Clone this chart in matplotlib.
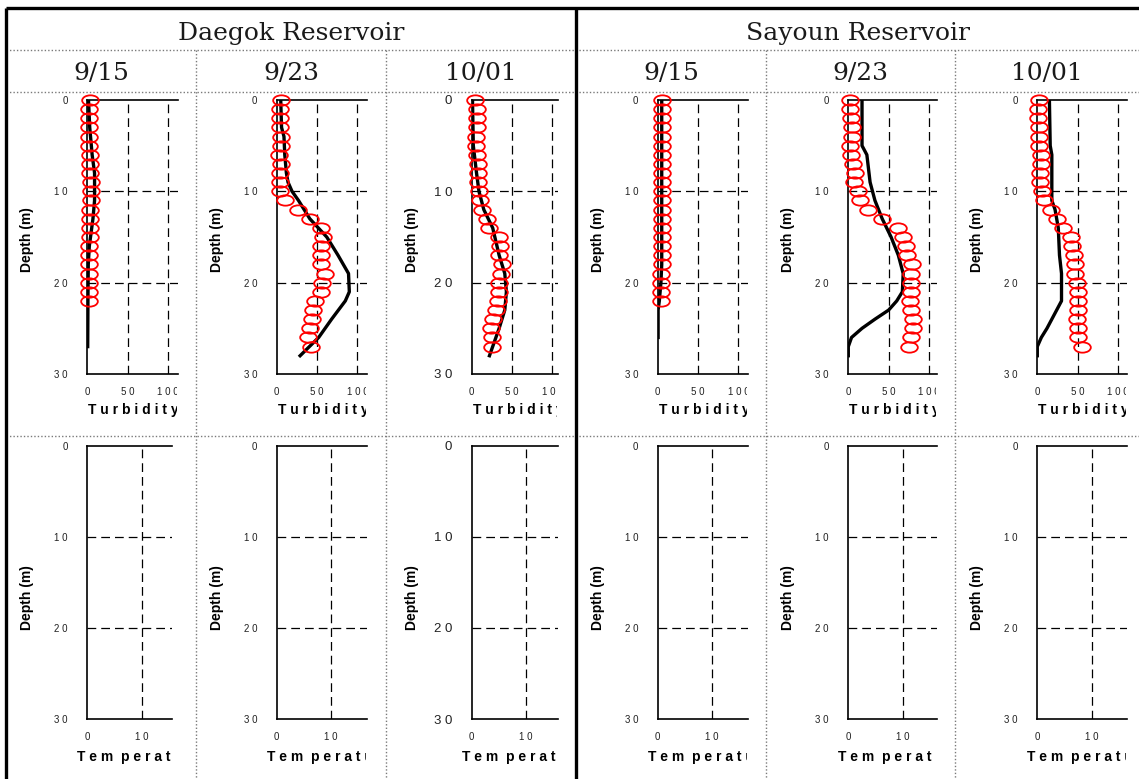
import matplotlib
matplotlib.use("Agg")
import matplotlib.pyplot as plt
from matplotlib.path import Path
from matplotlib.patches import Rectangle

plt.rcParams['font.family'] = ['Liberation Sans', 'DejaVu Sans']

W, H = 1139, 779

reservoirs = ["Daegok Reservoir", "Sayoun Reservoir"]
dates = ["9/15", "9/23", "10/01"]

# measured turbidity (red circles), every 1 m from the surface
obs_depth_short = list(range(0, 23))
obs_depth_long = list(range(0, 28))

daegok_0915_obs = [3, 2, 2, 2, 2, 2, 3, 3, 3, 4, 4, 4, 3, 3, 3, 3, 2, 2, 2, 2, 2, 2, 2]
daegok_0923_obs = [5, 4, 4, 4, 5, 5, 3, 5, 4, 4, 4, 10, 27, 41, 55, 57, 55, 55, 55, 60,
                   56, 55, 47, 45, 44, 41, 39, 42]
daegok_1001_obs = [4, 6, 6, 6, 5.5, 5.5, 6, 8, 8, 8, 8.5, 10.7, 12.8, 19, 21, 34, 35, 34,
                   37.6, 36, 34, 34, 32, 30, 26, 24, 25, 25]
sayoun_0915_obs = [5, 5, 5, 5, 5, 5, 5, 5, 5, 5, 5, 5, 5, 5, 5, 5, 5, 5, 5, 4, 4, 4, 4]
sayoun_0923_obs = [2, 2, 3, 4, 4, 2, 3, 6, 8, 7.5, 12, 15, 25, 42, 62, 68, 71, 73, 79, 78,
                   78, 78, 77, 78, 80, 80, 78, 75]
sayoun_1001_obs = [2.5, 1, 1, 2.5, 2.5, 2.5, 4, 4, 3, 3, 5.4, 8, 17, 25, 32, 42, 43, 46, 47,
                   47, 49, 51, 50, 51, 49, 50, 51, 55]

# simulated turbidity (black line)
daegok_0915_sim_d = [0, 3, 6, 8, 11, 13, 15, 16, 18, 22, 27]
daegok_0915_sim = [1.5, 3, 6, 9, 9, 7, 4, 2.5, 1.2, 0.8, 0.5]
daegok_0923_sim_d = [0, 3, 4, 6, 8, 9, 10, 11, 13, 15, 17, 19, 21, 22, 24, 26, 28]
daegok_0923_sim = [5, 6, 9, 10, 12, 14, 19, 27, 41, 62, 76, 89, 90, 85, 68, 52, 29]
daegok_1001_sim_d = [0, 5, 8, 10, 12, 14, 17, 19, 21, 23, 25, 27, 28]
daegok_1001_sim = [1, 2, 6, 9, 15, 26, 34, 41, 43, 41, 34, 26, 22]
sayoun_0915_sim_d = [0, 18, 20, 22, 23, 26]
sayoun_0915_sim = [5, 5, 4, 2, 0.5, 0.5]
sayoun_0923_sim_d = [0, 5, 6, 9, 11, 13, 15, 17, 19, 21, 22, 23, 24, 25, 26, 27, 28]
sayoun_0923_sim = [17, 17, 23, 27, 33, 42, 53, 62, 68, 67, 60, 50, 33, 17, 4, 0, 0]
sayoun_1001_sim_d = [0, 5, 6, 11, 12, 14, 17, 19, 22, 23, 25, 26, 27, 28]
sayoun_1001_sim = [15, 16, 18, 18, 22, 26, 27.5, 30, 30, 24, 12, 5, 0, 0]

turb_ticks = [0, 50, 100]
turb_ticklabels = ["0", "5 0", "1 0 0"]
temp_ticks = [0, 10]
temp_ticklabels = ["0", "1 0"]
depth_ticks = [0, 10, 20, 30]
depth_ticklabels = ["0", "1 0", "2 0", "3 0"]

panels = [
    (daegok_0915_obs, obs_depth_short, daegok_0915_sim, daegok_0915_sim_d),
    (daegok_0923_obs, obs_depth_long, daegok_0923_sim, daegok_0923_sim_d),
    (daegok_1001_obs, obs_depth_long, daegok_1001_sim, daegok_1001_sim_d),
    (sayoun_0915_obs, obs_depth_short, sayoun_0915_sim, sayoun_0915_sim_d),
    (sayoun_0923_obs, obs_depth_long, sayoun_0923_sim, sayoun_0923_sim_d),
    (sayoun_1001_obs, obs_depth_long, sayoun_1001_sim, sayoun_1001_sim_d),
]

# layout (pixels)
col_edges = [6, 196, 386, 576, 766, 955, 1139]
ax_left = [87.3, 276.7, 471.7, 657.7, 848.3, 1037.3]
ax_right_top = [178, 367.3, 557.7, 747.7, 936.7, 1126.7]
ax_right_bot = [172, 367.3, 557.7, 747.7, 936.7, 1126.7]
ytick_size = [7, 7, 9.5, 7, 7, 7]
TURB_PX = 0.807   # pixels per NTU
TEMP_PX = 5.45    # pixels per degree

fig = plt.figure(figsize=(W / 100, H / 100), dpi=100)

bg = fig.add_axes([0, 0, 1, 1], zorder=-1)
bg.set_xlim(0, W)
bg.set_ylim(H, 0)
bg.axis('off')

dot = dict(color='#7a7a7a', lw=1.0, ls=(0, (1, 1.5)))
for y in [50, 92, 436]:
    bg.plot([6, W], [y, y], **dot)
for x in [196, 386, 766, 955]:
    bg.plot([x, x], [50, H], **dot)
bg.plot([6, W], [8, 8], color='k', lw=2.4, solid_capstyle='butt')
bg.plot([6, 6], [8, H], color='k', lw=2.4, solid_capstyle='butt')
bg.plot([576, 576], [8, H], color='k', lw=2.4, solid_capstyle='butt')

for k, name in enumerate(reservoirs):
    bg.text((col_edges[3 * k] + col_edges[3 * k + 3]) / 2, 40, name, family='DejaVu Serif',
            size=18, ha='center', va='baseline', color='#1a1a1a')
    for j, dt in enumerate(dates):
        c = 3 * k + j
        bg.text((col_edges[c] + col_edges[c + 1]) / 2, 80, dt, family='DejaVu Serif',
                size=18, ha='center', va='baseline', color='#1a1a1a')

ell = Path.unit_circle()
ellipse = Path(ell.vertices * [1.0, 0.62], ell.codes)

dash = (0, (7, 4))


def px_axes(l, t, r, b):
    return fig.add_axes([l / W, 1 - b / H, (r - l) / W, (b - t) / H])


def clip_rect(l, t, r, b):
    return Rectangle((l / W, 1 - b / H), (r - l) / W, (b - t) / H, transform=fig.transFigure)


def base_style(ax, l, t, r, b, cell_t, cell_b, c, xticks, xlabels, xlabel, xlab_dx,
               xlab_y, ylab_y, xgrid):
    ax.set_facecolor('none')
    ax.set_ylim(30, 0)
    for v in xgrid:
        ax.axvline(v, color='k', lw=0.9, ls=dash, zorder=1)
    for d in [10, 20]:
        ax.axhline(d, color='k', lw=0.9, ls=dash, zorder=1)
    ax.spines['right'].set_visible(False)
    for s in ['left', 'top', 'bottom']:
        ax.spines[s].set_linewidth(1.2)
    ax.set_yticks(depth_ticks)
    ax.set_yticklabels(depth_ticklabels)
    ax.set_xticks(xticks)
    ax.set_xticklabels(xlabels)
    ax.tick_params(axis='y', length=0, pad=14, labelsize=ytick_size[c], labelcolor='#222222')
    ax.tick_params(axis='x', length=0, pad=9.5, labelsize=7, labelcolor='#222222')
    rect = clip_rect(col_edges[c], cell_t, r - 1, cell_b)
    for lbl in ax.get_xticklabels():
        lbl.set_clip_on(True)
        lbl.set_clip_path(rect)
    ax.set_ylabel("Depth (m)", fontsize=10, fontweight='bold')
    ax.yaxis.set_label_coords(-53 / (r - l), 1 - (ylab_y - t) / (b - t))
    ax.set_xlabel(xlabel, fontsize=10, fontweight='bold', ha='left', va='center')
    ax.xaxis.set_label_coords(xlab_dx / (r - l), -(xlab_y - b) / (b - t))
    ax.xaxis.label.set_clip_on(True)
    ax.xaxis.label.set_clip_path(rect)


for c, (obs, obs_d, sim, sim_d) in enumerate(panels):
    # turbidity profile
    l, r = ax_left[c], ax_right_top[c]
    t, b = 100, 374
    ax = px_axes(l, t, r, b)
    ax.set_xlim(0, (r - l) / TURB_PX)
    base_style(ax, l, t, r, b, 92, 436, c, turb_ticks, turb_ticklabels,
               "T u r b i d i t y", 1, 410, 240, [50, 100])
    ax.plot(sim, sim_d, color='k', lw=2.4, zorder=2)
    ax.plot(obs, obs_d, ls='none', marker=ellipse, ms=12, mfc='none', mec='red',
            mew=1.3, zorder=3, clip_on=False)

    # temperature profile (empty)
    r = ax_right_bot[c]
    t, b = 445.7, 719
    ax = px_axes(l, t, r, b)
    ax.set_xlim(0, (r - l) / TEMP_PX)
    base_style(ax, l, t, r, b, 436, H, c, temp_ticks, temp_ticklabels,
               "T e m  p e r a t u r e", -10, 757, 598, [10])

fig.savefig("out.png", dpi=100)
